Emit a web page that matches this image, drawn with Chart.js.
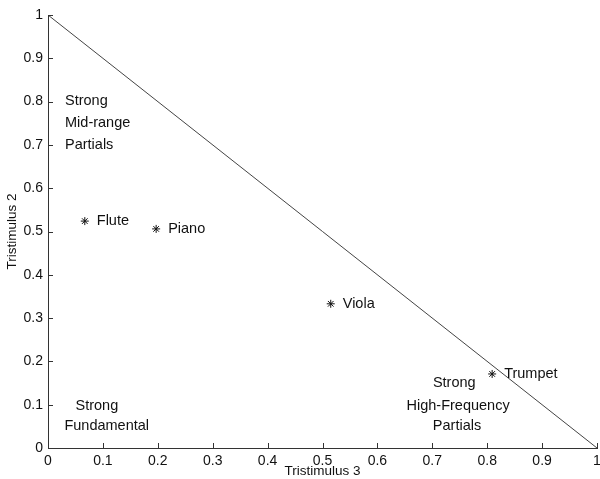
<!DOCTYPE html>
<html>
<head>
<meta charset="utf-8">
<script src="https://cdn.jsdelivr.net/npm/chart.js@4/dist/chart.umd.min.js"></script>
<style>
html,body{margin:0;padding:0;background:#fff}
#wrap{width:600px;height:479px}
</style>
</head>
<body>
<div id="wrap"><canvas id="c"></canvas></div>
<script>
const instruments=["Flute","Piano","Viola","Trumpet"]
const trist3=[0.067,0.197,0.515,0.809]
const trist2=[0.524,0.506,0.333,0.171]

const boundaryX=[0,1]
const boundaryY=[1,0]

// region notes, one entry per text line, anchored in data coords
const noteText=["Strong","Mid-range","Partials","Strong","Fundamental","Strong","High-Frequency","Partials"]
const noteX=[0.031,0.031,0.031,0.089,0.107,0.740,0.747,0.745]
const noteY=[0.801,0.751,0.700,0.097,0.051,0.150,0.097,0.051]
const noteAlign=["left","left","left","center","center","center","center","center"]

const font="Liberation Sans, Arial, Helvetica, sans-serif"

const annot={
id:"annot",
afterDatasetsDraw(chart){
const ctx=chart.ctx
const xs=chart.scales.x, ys=chart.scales.y
ctx.save()
ctx.fillStyle="#111"
ctx.font="14.5px "+font
ctx.textBaseline="middle"
// instrument names next to the markers
const meta=chart.getDatasetMeta(1)
meta.data.forEach((pt,i)=>{
ctx.textAlign="left"
ctx.fillText(instruments[i],pt.x+12,pt.y)
})
noteText.forEach((t,i)=>{
ctx.textAlign=noteAlign[i]
ctx.fillText(t,xs.getPixelForValue(noteX[i]),ys.getPixelForValue(noteY[i]))
})
// inward ticks
ctx.strokeStyle="#333"
ctx.lineWidth=1
xs.ticks.forEach(t=>{
const p=Math.round(xs.getPixelForValue(t.value))+0.5
ctx.beginPath();ctx.moveTo(p,chart.chartArea.bottom);ctx.lineTo(p,chart.chartArea.bottom-5);ctx.stroke()
})
ys.ticks.forEach(t=>{
const p=Math.round(ys.getPixelForValue(t.value))+0.5
ctx.beginPath();ctx.moveTo(chart.chartArea.left,p);ctx.lineTo(chart.chartArea.left+5,p);ctx.stroke()
})
ctx.restore()
}
}

const fmt=v=>String(+(+v).toFixed(1))

new Chart(document.getElementById("c"),{
type:"scatter",
data:{
datasets:[
{
type:"line",
data:boundaryX.map((x,i)=>({x:x,y:boundaryY[i]})),
borderColor:"#444",
borderWidth:1,
pointRadius:0
},
{
data:trist3.map((x,i)=>({x:x,y:trist2[i]})),
pointStyle:"star",
pointRadius:4,
borderColor:"#111",
borderWidth:1,
backgroundColor:"#111"
}
]
},
options:{
responsive:true,
maintainAspectRatio:false,
animation:false,
layout:{autoPadding:false,padding:{top:15,right:3,left:0,bottom:0}},
plugins:{legend:{display:false},tooltip:{enabled:false}},
scales:{
x:{
type:"linear",min:0,max:1,
ticks:{stepSize:0.1,callback:fmt,color:"#111",font:{family:font,size:14},padding:5,maxRotation:0},
grid:{drawOnChartArea:false,drawTicks:false},
border:{color:"#333"},
title:{display:true,text:"Tristimulus 3",color:"#111",font:{family:font,size:13.5},padding:{top:0,bottom:0}},
afterFit(s){s.height=31;s.paddingLeft=0;s.paddingRight=0}
},
y:{
type:"linear",min:0,max:1,
ticks:{stepSize:0.1,callback:fmt,color:"#111",font:{family:font,size:14},padding:5},
grid:{drawOnChartArea:false,drawTicks:false},
border:{color:"#333"},
title:{display:true,text:"Tristimulus 2",color:"#111",font:{family:font,size:13.5},padding:{top:4,bottom:0}},
afterFit(s){s.width=48;s.paddingTop=0;s.paddingBottom=0}
}
}
},
plugins:[annot]
})
</script>
</body>
</html>
